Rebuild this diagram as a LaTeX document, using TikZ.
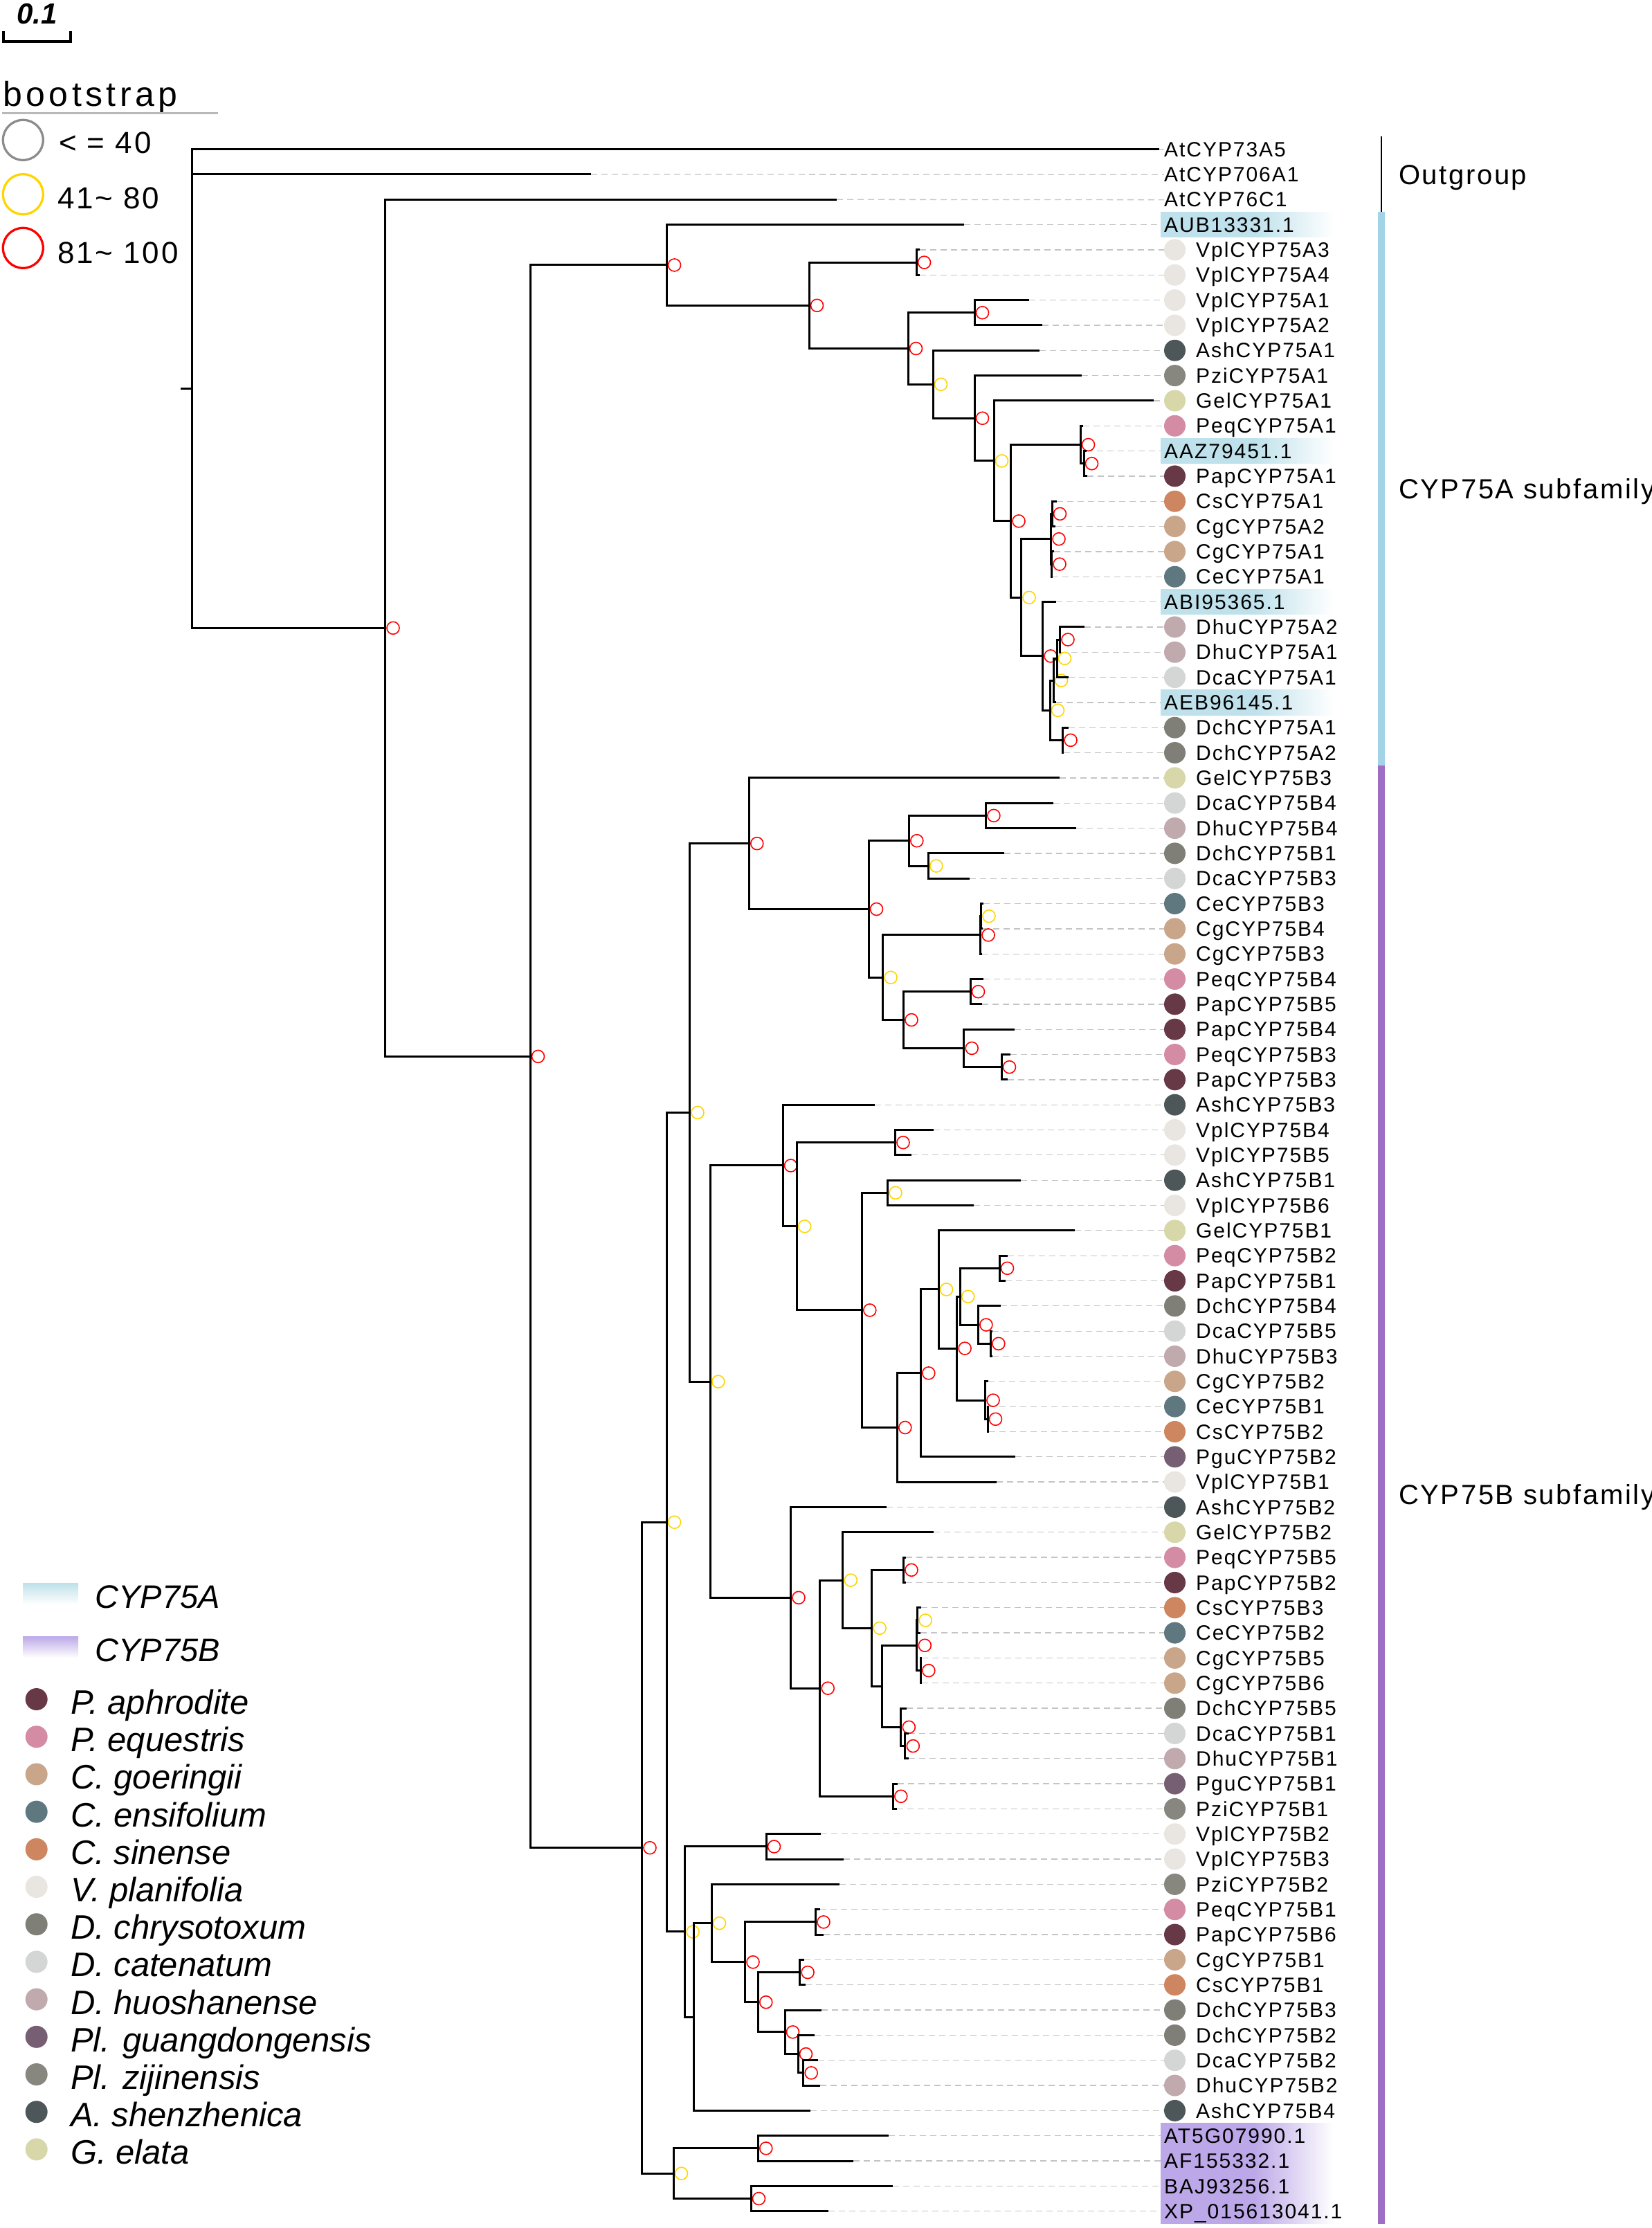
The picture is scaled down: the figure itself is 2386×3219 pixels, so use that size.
\documentclass[tikz,border=0pt]{standalone}
\usepackage{fontspec}
\setmainfont{Liberation Sans}
\newfontfamily\lblfont[LetterSpace=6.5]{Liberation Sans}
\newfontfamily\widefont[LetterSpace=11]{Liberation Sans}

% species colours
\definecolor{cPap}{HTML}{673946}
\definecolor{cPeq}{HTML}{D48CA5}
\definecolor{cCg}{HTML}{C9A68A}
\definecolor{cCe}{HTML}{5F7880}
\definecolor{cCs}{HTML}{CD8660}
\definecolor{cVpl}{HTML}{E9E5E0}
\definecolor{cDch}{HTML}{7F7F78}
\definecolor{cDca}{HTML}{D4D5D5}
\definecolor{cDhu}{HTML}{C0AAAE}
\definecolor{cPgu}{HTML}{765E73}
\definecolor{cPzi}{HTML}{87867F}
\definecolor{cAsh}{HTML}{4D575A}
\definecolor{cGel}{HTML}{D7D7AA}
% clade colours
\definecolor{hlblue}{HTML}{BEE1EB}
\definecolor{hlpurple}{HTML}{BCA8E8}
\definecolor{barblue}{HTML}{A3D3E6}
\definecolor{barpurple}{HTML}{9F6DC6}
\definecolor{bsred}{HTML}{FF0000}
\definecolor{bsyellow}{HTML}{FFD500}
\definecolor{bsgray}{HTML}{8C8C8C}
\definecolor{leadgray}{HTML}{C4C4C4}

\pgfdeclarehorizontalshading{refAshade}{100bp}{color(0bp)=(hlblue); color(52bp)=(hlblue); color(75bp)=(white); color(100bp)=(white)}
\pgfdeclarehorizontalshading{refBshade}{100bp}{color(0bp)=(hlpurple); color(52bp)=(hlpurple); color(75bp)=(white); color(100bp)=(white)}

\begin{document}
\begin{tikzpicture}[
    x=1pt, y=-1pt,
    treebranch/.style={line width=3pt},% branch of the tree
    tipleader/.style={draw=leadgray, line width=1.3pt, dash pattern=on 9pt off 6pt},% tip to name
    bsmark/.style={circle, line width=1.6pt, minimum size=18pt, inner sep=0pt},% bootstrap support
    spdot/.style={circle, minimum size=31pt, inner sep=0pt},% species colour at leaf
    leafname/.style={anchor=base west, yshift=-10.7pt, inner sep=0pt, font=\lblfont\fontsize{30}{32}\selectfont},% leaf name
    refbox/.style={anchor=west, minimum width=250pt, minimum height=36.4pt, inner sep=0pt},% highlighted reference
    groupname/.style={anchor=base west, yshift=-14.3pt, inner sep=0pt, font=\lblfont\fontsize{40}{44}\selectfont},% subfamily
    keymark/.style={circle, line width=3.3pt, minimum size=58pt, inner sep=0pt},% bootstrap key
    keytext/.style={anchor=base west, inner sep=0pt, font=\lblfont\fontsize{44}{48}\selectfont},% bootstrap key text
    keydot/.style={circle, minimum size=32pt, inner sep=0pt},% species key dot
    keyname/.style={anchor=base west, inner sep=0pt, font=\itshape\fontsize{49}{52}\selectfont},% species key name
  ]
  \useasboundingbox (0,0) rectangle (2386,3219);

  % scale bar
  \node[anchor=base, inner sep=0pt, font=\bfseries\itshape\fontsize{42}{44}\selectfont] (scaletxt) at (53.5,35) {0.1};
  \draw[line width=3.3pt] (5,45) -- (5,60) -- (102,60) -- (102,45);

  % bootstrap key
  \node[anchor=base west, inner sep=0pt, font=\widefont\fontsize{50}{54}\selectfont] (bstitle) at (4,154) {bootstrap};
  \draw[gray!55, line width=3pt] (3,163.5) -- (315,163.5);
  \node[keymark, draw=bsgray] (keylow) at (33.3,202.3) {};
  \node[keymark, draw=bsyellow] (keymid) at (33.3,280.7) {};
  \node[keymark, draw=bsred] (keyhigh) at (33.3,358.3) {};
  \node[keytext] (keylowtxt) at (85,221.7) {< = 40};
  \node[keytext] (keymidtxt) at (83,301.7) {41\textasciitilde\ 80};
  \node[keytext] (keyhightxt) at (83,380) {81\textasciitilde\ 100};

  % clade key
  \shade[top color=hlblue, middle color=hlblue, bottom color=white] (33,2287) rectangle (113,2318);
  \shade[top color=hlpurple, middle color=hlpurple, bottom color=white] (33,2364) rectangle (113,2395);
  \node[anchor=base west, inner sep=0pt, font=\itshape\fontsize{47}{50}\selectfont] (keyA) at (137.5,2323) {CYP75A};
  \node[anchor=base west, inner sep=0pt, font=\itshape\fontsize{47}{50}\selectfont] (keyB) at (137.5,2400) {CYP75B};

  % species key
  \foreach \k/\col/\spn in {0/cPap/P. aphrodite, 1/cPeq/P. equestris, 2/cCg/C. goeringii,
      3/cCe/C. ensifolium, 4/cCs/C. sinense, 5/cVpl/V. planifolia, 6/cDch/D. chrysotoxum,
      7/cDca/D. catenatum, 8/cDhu/D. huoshanense, 9/cPgu/Pl. guangdongensis,
      10/cPzi/Pl. zijinensis, 11/cAsh/A. shenzhenica, 12/cGel/G. elata} {
    \node[keydot, fill=\col] (sp\k) at (52.7,2455+54.2*\k) {};
    \node[keyname] (spname\k) at (101.8,2476.5+54.2*\k) {\spn};
  }

  \begin{scope}[shift={(0,179.3)}, y=-36.33pt]
    % subfamily bars
    \draw[line width=2pt] (1996,0.5) -- (1996,3.5);
    \fill[barblue] (1991,3.5) rectangle (2001,25.5);
    \fill[barpurple] (1991,25.5) rectangle (2001,83.5);
    \node[groupname] (grpout) at (2021,2) {Outgroup};
    \node[groupname] (grpA) at (2021,14.5) {CYP75A subfamily};
    \node[groupname] (grpB) at (2021,54.5) {CYP75B subfamily};

    % outgroup leaves
    \foreach \i/\x/\lbl in {1/1675/AtCYP73A5, 2/854/AtCYP706A1, 3/1209/AtCYP76C1} {
      \coordinate (tip\i) at (\x,\i);
      \node[leafname] (lab\i) at (1682,\i) {\lbl};
      \draw[tipleader] (tip\i) -- (lab\i.west);
    }
    % reference sequences
    \foreach \i/\x/\lbl/\shd in {4/1393/AUB13331.1/refAshade, 13/1570/AAZ79451.1/refAshade,
        19/1526/ABI95365.1/refAshade, 23/1526/AEB96145.1/refAshade,
        80/1284/AT5G07990.1/refBshade, 81/1233/AF155332.1/refBshade,
        82/1290/BAJ93256.1/refBshade, 83/1197/XP\_015613041.1/refBshade} {
      \coordinate (tip\i) at (\x,\i);
      \node[refbox, shading=\shd] (box\i) at (1677,\i) {};
      \node[leafname] (lab\i) at (1682,\i) {\lbl};
      \draw[tipleader] (tip\i) -- (box\i.west);
    }
    % orchid leaves
    \foreach \i/\x/\lbl/\col in {
        5/1329/VplCYP75A3/cVpl, 6/1329/VplCYP75A4/cVpl, 7/1487/VplCYP75A1/cVpl,
        8/1506/VplCYP75A2/cVpl, 9/1502/AshCYP75A1/cAsh, 10/1563/PziCYP75A1/cPzi,
        11/1667/GelCYP75A1/cGel, 12/1565/PeqCYP75A1/cPeq, 14/1571/PapCYP75A1/cPap,
        15/1527/CsCYP75A1/cCs, 16/1525/CgCYP75A2/cCg, 17/1523/CgCYP75A1/cCg,
        18/1520/CeCYP75A1/cCe, 20/1567/DhuCYP75A2/cDhu, 21/1533/DhuCYP75A1/cDhu,
        22/1544/DcaCYP75A1/cDca, 24/1544/DchCYP75A1/cDch, 25/1537/DchCYP75A2/cDch,
        26/1531/GelCYP75B3/cGel, 27/1522/DcaCYP75B4/cDca, 28/1555/DhuCYP75B4/cDhu,
        29/1451/DchCYP75B1/cDch, 30/1401/DcaCYP75B3/cDca, 31/1421/CeCYP75B3/cCe,
        32/1420/CgCYP75B4/cCg, 33/1419/CgCYP75B3/cCg, 34/1421/PeqCYP75B4/cPeq,
        35/1419/PapCYP75B5/cPap, 36/1466/PapCYP75B4/cPap, 37/1460/PeqCYP75B3/cPeq,
        38/1456/PapCYP75B3/cPap, 39/1264/AshCYP75B3/cAsh, 40/1349/VplCYP75B4/cVpl,
        41/1317/VplCYP75B5/cVpl, 42/1475/AshCYP75B1/cAsh, 43/1407/VplCYP75B6/cVpl,
        44/1553/GelCYP75B1/cGel, 45/1456/PeqCYP75B2/cPeq, 46/1453/PapCYP75B1/cPap,
        47/1446/DchCYP75B4/cDch, 48/1434/DcaCYP75B5/cDca, 49/1434/DhuCYP75B3/cDhu,
        50/1428/CgCYP75B2/cCg, 51/1429/CeCYP75B1/cCe, 52/1429/CsCYP75B2/cCs,
        53/1467/PguCYP75B2/cPgu, 54/1440/VplCYP75B1/cVpl, 55/1281/AshCYP75B2/cAsh,
        56/1349/GelCYP75B2/cGel, 57/1309/PeqCYP75B5/cPeq, 58/1309/PapCYP75B2/cPap,
        59/1331/CsCYP75B3/cCs, 60/1330/CeCYP75B2/cCe, 61/1332/CgCYP75B5/cCg,
        62/1332/CgCYP75B6/cCg, 63/1310/DchCYP75B5/cDch, 64/1313/DcaCYP75B1/cDca,
        65/1313/DhuCYP75B1/cDhu, 66/1297/PguCYP75B1/cPgu, 67/1296/PziCYP75B1/cPzi,
        68/1186/VplCYP75B2/cVpl, 69/1219/VplCYP75B3/cVpl, 70/1213/PziCYP75B2/cPzi,
        71/1185/PeqCYP75B1/cPeq, 72/1190/PapCYP75B6/cPap, 73/1162/CgCYP75B1/cCg,
        74/1164/CsCYP75B1/cCs, 75/1187/DchCYP75B3/cDch, 76/1177/DchCYP75B2/cDch,
        77/1182/DcaCYP75B2/cDca, 78/1185/DhuCYP75B2/cDhu, 79/1171/AshCYP75B4/cAsh} {
      \coordinate (tip\i) at (\x,\i);
      \node[spdot, fill=\col] (dot\i) at (1697.5,\i) {};
      \node[leafname] (lab\i) at (1728,\i) {\lbl};
      \draw[tipleader] (tip\i) -- (dot\i.west);
    }

    % inner nodes without support mark
    \coordinate (rootstub) at (261,10.519);
    \coordinate (nR) at (277,10.519);
    \coordinate (nB45) at (1274.3,62.125);
    \coordinate (nB62) at (1002.5,75.273);
    % inner nodes with support mark
    \foreach \n/\x/\rw/\bc in {
        O1/556.5/20.039/bsred, O2/766/37.078/bsred,
        A0/963/5.606/bsred, A1/1169/7.212/bsred, A2/1324/5.5/bsred, A3/1312/8.924/bsred,
        A4/1408/7.5/bsred, A5/1348/10.349/bsyellow, A6/1408/11.697/bsred, A7/1436/13.395/bsyellow,
        A8/1460.5/15.789/bsred, A9/1561/12.75/bsred, A10/1566/13.5/bsred, A11/1475.5/18.828/bsyellow,
        A12/1518.5/16.5/bsred, A13/1520/15.5/bsred, A14/1519.5/17.5/bsred, A15/1506.5/21.156/bsred,
        A16/1517/23.313/bsyellow, A17/1522/22.125/bsyellow, A18/1527/21.25/bsyellow,
        A19/1531.5/20.5/bsred, A20/1535.5/24.5/bsred,
        B0/927.5/68.549/bsred, B1/963/55.598/bsyellow, B2/996.5/39.309/bsyellow,
        B3/1082.3/28.609/bsred, B4/1255/31.219/bsred, B5/1313.3/28.5/bsred, B6/1424.4/27.5/bsred,
        B7/1341.3/29.5/bsyellow, B8/1275.6/33.938/bsyellow, B9/1416.6/32.25/bsred,
        B10/1417.5/31.5/bsyellow, B11/1305.5/35.625/bsred, B12/1402/34.5/bsred,
        B13/1392.7/36.75/bsred, B14/1447/37.5/bsred,
        B20/1026.3/50.009/bsyellow, B21/1131/41.417/bsred, B22/1151.2/43.834/bsyellow,
        B23/1293.5/40.5/bsred, B24/1245.3/47.168/bsred, B25/1282.5/42.5/bsyellow,
        B26/1296.3/51.836/bsred, B27/1330.3/49.672/bsred, B28/1356/46.344/bsyellow,
        B29/1382.6/48.688/bsred, B30/1387.2/46.625/bsyellow, B31/1444/45.5/bsred,
        B32/1413.4/47.75/bsred, B33/1423.5/50.75/bsred, B34/1431.3/48.5/bsred, B35/1427/51.5/bsred,
        B40/1142.5/58.602/bsred, B41/1184.7/62.203/bsred, B42/1217.8/57.906/bsyellow,
        B43/1259.6/59.813/bsyellow, B44/1305.5/57.5/bsred, B46/1324.8/60.5/bsred,
        B47/1325.7/59.5/bsyellow, B48/1290.3/66.5/bsred, B49/1301.8/63.75/bsred,
        B50/1307.8/64.5/bsred, B51/1330.3/61.5/bsred,
        B60/989.7/71.887/bsyellow, B61/1107/68.5/bsred, B63/1028/71.547/bsyellow,
        B64/1076.5/73.094/bsred, B65/1178.5/71.5/bsred, B66/1095.3/74.688/bsred,
        B67/1155.6/73.5/bsred, B68/1134/75.875/bsred, B69/1153/76.75/bsred, B70/1160.7/77.5/bsred,
        B80/973/81.5/bsyellow, B81/1095.3/80.5/bsred, B82/1085/82.5/bsred} {
      \coordinate (n\n) at (\x,\rw);
      \node[bsmark, draw=\bc] (bs\n) at (\x+11.5,\rw) {};
    }

    % branches
    \draw[treebranch] (rootstub) -- (nR);
    \foreach \p/\c in {nR/tip1, nR/tip2, nR/nO1, nO1/tip3, nO1/nO2, nO2/nA0, nO2/nB0,
        nA0/tip4, nA0/nA1, nA1/nA2, nA1/nA3, nA2/tip5, nA2/tip6, nA3/nA4, nA3/nA5,
        nA4/tip7, nA4/tip8, nA5/tip9, nA5/nA6, nA6/tip10, nA6/nA7, nA7/tip11, nA7/nA8,
        nA8/nA9, nA8/nA11, nA9/tip12, nA9/nA10, nA10/tip13, nA10/tip14,
        nA11/nA12, nA11/nA15, nA12/nA13, nA12/nA14, nA13/tip15, nA13/tip16,
        nA14/tip17, nA14/tip18, nA15/tip19, nA15/nA16, nA16/nA17, nA16/nA20,
        nA17/nA18, nA17/tip23, nA18/nA19, nA18/tip22, nA19/tip20, nA19/tip21,
        nA20/tip24, nA20/tip25,
        nB0/nB1, nB0/nB80, nB1/nB2, nB1/nB60, nB2/nB3, nB2/nB20,
        nB3/tip26, nB3/nB4, nB4/nB5, nB4/nB8, nB5/nB6, nB5/nB7, nB6/tip27, nB6/tip28,
        nB7/tip29, nB7/tip30, nB8/nB9, nB8/nB11, nB9/nB10, nB9/tip33, nB10/tip31, nB10/tip32,
        nB11/nB12, nB11/nB13, nB12/tip34, nB12/tip35, nB13/tip36, nB13/nB14,
        nB14/tip37, nB14/tip38,
        nB20/nB21, nB20/nB40, nB21/tip39, nB21/nB22, nB22/nB23, nB22/nB24,
        nB23/tip40, nB23/tip41, nB24/nB25, nB24/nB26, nB25/tip42, nB25/tip43,
        nB26/nB27, nB26/tip54, nB27/nB28, nB27/tip53, nB28/tip44, nB28/nB29,
        nB29/nB30, nB29/nB33, nB30/nB31, nB30/nB32, nB31/tip45, nB31/tip46,
        nB32/tip47, nB32/nB34, nB34/tip48, nB34/tip49, nB33/tip50, nB33/nB35,
        nB35/tip51, nB35/tip52,
        nB40/tip55, nB40/nB41, nB41/nB42, nB41/nB48, nB42/tip56, nB42/nB43,
        nB43/nB44, nB43/nB45, nB44/tip57, nB44/tip58, nB45/nB46, nB45/nB49,
        nB46/nB47, nB46/nB51, nB47/tip59, nB47/tip60, nB51/tip61, nB51/tip62,
        nB49/tip63, nB49/nB50, nB50/tip64, nB50/tip65, nB48/tip66, nB48/tip67,
        nB60/nB61, nB60/nB62, nB61/tip68, nB61/tip69, nB62/nB63, nB62/tip79,
        nB63/tip70, nB63/nB64, nB64/nB65, nB64/nB66, nB65/tip71, nB65/tip72,
        nB66/nB67, nB66/nB68, nB67/tip73, nB67/tip74, nB68/tip75, nB68/nB69,
        nB69/tip76, nB69/nB70, nB70/tip77, nB70/tip78,
        nB80/nB81, nB80/nB82, nB81/tip80, nB81/tip81, nB82/tip82, nB82/tip83}
      \draw[treebranch] (\p) |- (\c);
  \end{scope}
\end{tikzpicture}
\end{document}
